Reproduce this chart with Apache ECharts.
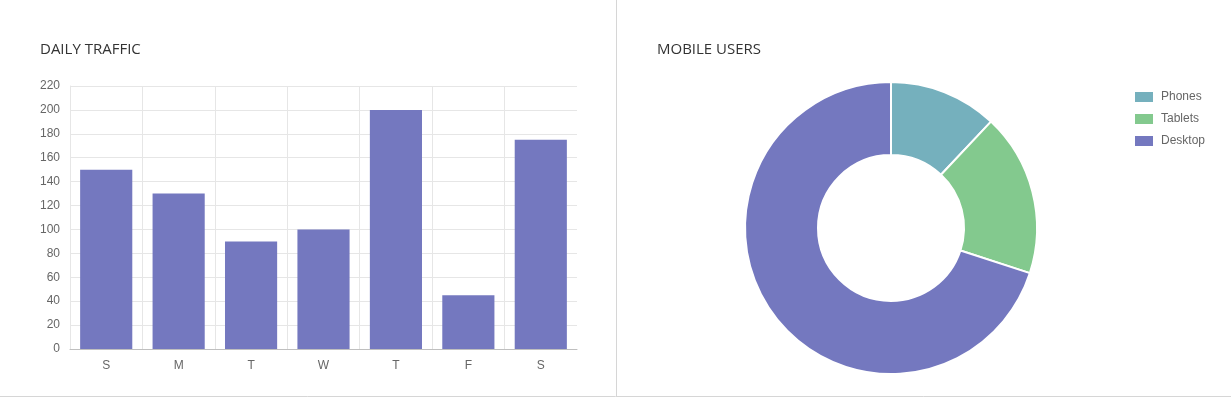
<!DOCTYPE html>
<html>
<head>
<meta charset="utf-8">
<script src="https://cdn.jsdelivr.net/npm/echarts@6/dist/echarts.min.js"></script>
<style>
html,body{margin:0;padding:0;background:#fff;}
#c{width:1231px;height:401px;}
</style>
</head>
<body>
<div id="c"></div>
<script>
var days = ['S','M','T','W','T','F','S'];
var traffic = [150,130,90,100,200,45,175];
var deviceNames = ['Phones','Tablets','Desktop'];
var deviceValues = [12,18,70];
var deviceColors = ['#75b0bd','#83c98e','#7478bf'];
var barColor = '#7478bf';

var chart = echarts.init(document.getElementById('c'), null, {renderer:'canvas'});
var font = 'Arial, "Liberation Sans", Helvetica, sans-serif';
var titleStyle = {fontSize:15, fontWeight:'normal', color:'#333', fontFamily:'"Open Sans", sans-serif'};
chart.setOption({
  animation:false,
  textStyle:{fontFamily:font},
  title:[
    {text:'DAILY TRAFFIC', left:40, top:42, padding:0, textStyle:titleStyle},
    {text:'MOBILE USERS', left:657, top:42, padding:0, textStyle:titleStyle}
  ],
  legend:{
    orient:'vertical', left:1133, top:90, padding:0, itemWidth:20, itemHeight:12, itemGap:8,
    icon:'rect', selectedMode:false,
    textStyle:{fontSize:12, color:'#666', fontFamily:font, padding:[0,0,0,2]},
    data:deviceNames
  },
  grid:{left:70, top:86, width:507, height:263, containLabel:false},
  xAxis:[{
    type:'category', data:days, boundaryGap:true,
    axisLine:{show:true, lineStyle:{color:'#bfbfbf', width:1}},
    axisTick:{show:false},
    axisLabel:{color:'#666', fontSize:12, margin:11, fontFamily:font},
    splitLine:{show:false}
  },{
    type:'value', min:0, max:days.length, interval:1, position:'bottom',
    axisLine:{show:false}, axisTick:{show:false}, axisLabel:{show:false},
    splitLine:{show:true, showMinLine:false, showMaxLine:false, lineStyle:{color:'#e6e6e6', width:1}}
  }],
  yAxis:{
    type:'value', min:0, max:220, interval:20,
    axisLine:{show:true, lineStyle:{color:'#e6e6e6'}},
    axisTick:{show:false},
    axisLabel:{color:'#666', fontSize:12, margin:10, fontFamily:font},
    splitLine:{show:true, lineStyle:{color:'#e6e6e6', width:1}}
  },
  series:[
    {type:'bar', xAxisIndex:0, data:traffic, barWidth:'72%', itemStyle:{color:barColor}, silent:true},
    {type:'pie', center:[891,228], radius:[73,146], startAngle:90, clockwise:true,
     label:{show:false}, labelLine:{show:false}, silent:true,
     itemStyle:{borderColor:'#fff', borderWidth:2},
     data:deviceNames.map(function(n,i){return {name:n, value:deviceValues[i], itemStyle:{color:deviceColors[i]}};})
    }
  ],
  graphic:[
    {type:'line', shape:{x1:616.5, y1:0, x2:616.5, y2:397}, style:{stroke:'#d6d6d6', lineWidth:1}, silent:true},
    {type:'line', shape:{x1:0, y1:396.5, x2:1231, y2:396.5}, style:{stroke:'#d6d6d6', lineWidth:1}, silent:true}
  ]
});
</script>
</body>
</html>
